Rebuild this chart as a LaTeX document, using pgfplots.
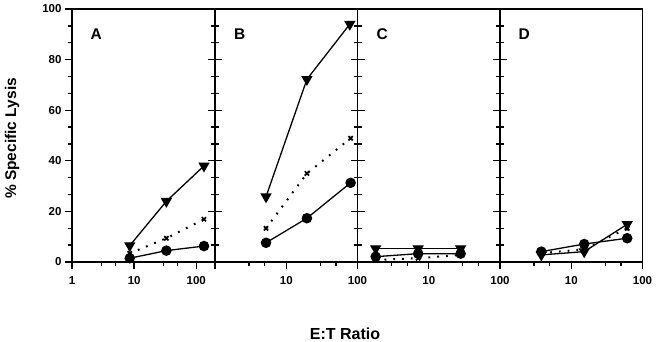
\documentclass[border=0pt]{standalone}
\usepackage{fontspec}
\setmainfont{Liberation Sans}
\usepackage{pgfplots}
\pgfplotsset{compat=1.18}
\pgfplotsset{
  mypanel/.style={
    scale only axis, width=142.5pt, height=253pt, anchor=south west,
    xmin=1, xmax=100, ymin=0, ymax=100,
    axis line style={line width=1.6pt},
    tick align=outside, major tick length=7pt, minor tick length=4pt,
    every tick/.style={line width=1.3pt, black},
    ytick={0,20,40,60,80,100}, minor y tick num=2,
    xtick={1,10,100}, minor xtick={3,5,30,50},
    xtick pos=bottom,
    xticklabels={,10,100}, yticklabels={},
    tick label style={font=\bfseries\fontsize{11.5}{12}\selectfont},
    xticklabel style={yshift=-4pt},
    clip=false,
  },
}
\tikzset{
  mytri/.style={black, line width=1.3pt, mark=triangle*, mark size=5.3pt, mark options={solid, fill=black, rotate=180}},
  mycirc/.style={black, line width=1.3pt, mark=*, mark size=4.6pt, mark options={solid, fill=black}},
  myxs/.style={black, line width=2pt, dash pattern=on 1.8pt off 7pt, mark=x, mark size=3pt, mark options={solid, line width=1.7pt}},
  mylett/.style={anchor=base west, font=\bfseries\fontsize{15.5}{16}\selectfont},
}
\begin{document}
\begin{tikzpicture}
% Panel A
\begin{semilogxaxis}[mypanel, at={(72pt,80pt)}, width=143pt, xmax=200,
  xticklabels={1,10,100}, yticklabels={0,20,40,60,80,100}, ytick pos=both]
\addplot[myxs] coordinates {(8.5,3.4) (33,9.4) (133,16.9)};
\addplot[mytri] coordinates {(8.5,6.5) (33,24) (133,38)};
\addplot[mycirc] coordinates {(8.5,1.5) (33,4.5) (133,6.3)};
\node[mylett] at (rel axis cs:0.105,0.881) {A};
\end{semilogxaxis}
% Panel B
\begin{semilogxaxis}[mypanel, at={(215pt,80pt)}, ytick pos=both]
\addplot[myxs] coordinates {(5.2,13.3) (19.5,35) (80,48.9)};
\addplot[mytri] coordinates {(5.2,25.8) (19.5,72.2) (78,94)};
\addplot[mycirc] coordinates {(5.2,7.6) (19.5,17.3) (80,31.3)};
\node[mylett] at (rel axis cs:0.109,0.881) {B};
\end{semilogxaxis}
% Panel C
\begin{semilogxaxis}[mypanel, at={(357.5pt,80pt)}, ytick pos=both]
\addplot[myxs] coordinates {(1.8,0.8) (7.1,1.5) (28,2.8)};
\addplot[mytri] coordinates {(1.8,5.3) (7.1,5.3) (28,5.3)};
\addplot[mycirc] coordinates {(1.8,2.1) (7.1,3.3) (28,3.3)};
\node[mylett] at (rel axis cs:0.109,0.881) {C};
\end{semilogxaxis}
% Panel D
\begin{semilogxaxis}[mypanel, at={(500pt,80pt)}, ytick pos=left]
\addplot[myxs] coordinates {(3.8,3.5) (15.2,5.0) (61,13.3)};
\addplot[mytri] coordinates {(3.8,2.8) (15.2,4.1) (61,14.9)};
\addplot[mycirc] coordinates {(3.8,4.1) (15.2,7.1) (61,9.4)};
\node[mylett] at (rel axis cs:0.105,0.881) {D};
\end{semilogxaxis}
\node[rotate=90, font=\bfseries\fontsize{15.5}{16}\selectfont] at (12pt,203.5pt) {\% Specific Lysis};
\node[font=\bfseries\fontsize{16}{17}\selectfont] at (345pt,8.5pt) {E:T Ratio};
\pgfresetboundingbox
\useasboundingbox (0pt,0pt) rectangle (660pt,342pt);
\end{tikzpicture}
\end{document}
